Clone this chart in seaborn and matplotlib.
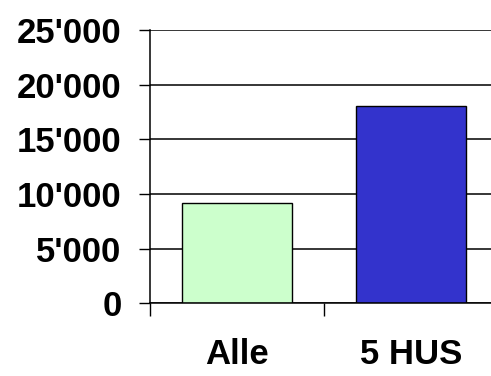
import matplotlib
matplotlib.use("Agg")
import matplotlib.pyplot as plt
import matplotlib.ticker as mticker
import seaborn as sns
import pandas as pd

categories = ["Alle", "5 HUS"]
values = [9150, 18000]
bar_colors = ["#CCFFCC", "#3333CC"]
y_ticks = [0, 5000, 10000, 15000, 20000, 25000]

sns.set_style("white")
plt.rcParams["font.family"] = ["Liberation Sans", "DejaVu Sans"]
plt.rcParams["font.weight"] = "bold"
plt.rcParams["text.color"] = "black"
plt.rcParams["xtick.color"] = "black"
plt.rcParams["ytick.color"] = "black"

df = pd.DataFrame({"group": categories, "value": values})

fig = plt.figure(figsize=(4.91, 3.76), dpi=100)
ax = fig.add_axes([0.3045, 0.1934, 0.7108, 0.7269])

sns.barplot(data=df, x="group", y="value", hue="group", order=categories,
            palette=bar_colors, width=0.63, edgecolor="black", linewidth=1.0,
            legend=False, ax=ax, saturation=1)

ax.set_xlim(-0.5, 1.5)
ax.set_ylim(0, 25000)
ax.set_axisbelow(True)
ax.yaxis.grid(True, color="black", linewidth=1.1)
ax.xaxis.grid(False)

ax.set_yticks(y_ticks)
ax.yaxis.set_major_formatter(mticker.FuncFormatter(lambda v, p: f"{int(v):,}".replace(",", "'")))
ax.tick_params(axis="y", which="major", left=True, direction="out", length=8, width=1.0,
               color="black", labelcolor="black", pad=12, labelsize=25)

# category boundaries carry the ticks, names sit centred between them
ax.set_xticks([-0.5, 0.5, 1.5])
ax.set_xticklabels(["", "", ""])
ax.set_xticks([0, 1], minor=True)
ax.set_xticklabels(categories, minor=True)
ax.tick_params(axis="x", which="major", bottom=True, direction="out", length=9, width=1.0, color="black")
ax.tick_params(axis="x", which="minor", bottom=True, length=0, pad=25, labelsize=25, labelcolor="black")
for lbl in ax.get_xticklabels(minor=True) + ax.get_yticklabels():
    lbl.set_fontweight("bold")

ax.set_xlabel("")
ax.set_ylabel("")
for side in ["top", "right"]:
    ax.spines[side].set_visible(False)
for side in ["left", "bottom"]:
    ax.spines[side].set_color("black")
    ax.spines[side].set_linewidth(1.1)

fig.savefig("out.png", dpi=100)
